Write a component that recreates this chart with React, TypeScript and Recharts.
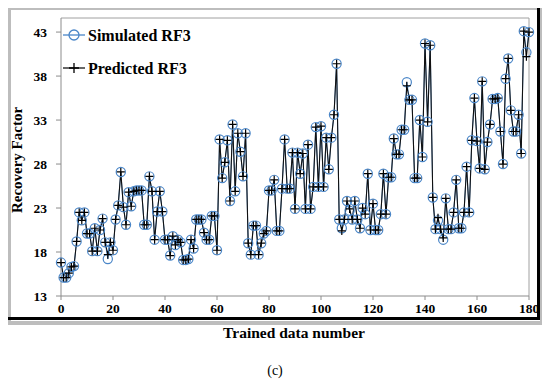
import { LineChart, Line, XAxis, YAxis, ReferenceLine, Customized } from "recharts";

// values (index = trained data number)
const simulated = [
  16.8, 15.1, 15.1, 15.6, 16.3, 16.4, 19.2, 22.5, 21.6, 22.5,
  20.1, 20.1, 18.1, 20.7, 18.1, 20.5, 21.8, 19.1, 17.2, 19.1,
  18.2, 21.7, 23.3, 27.1, 23.1, 21.1, 24.8, 23.2, 24.9, 25.0,
  25.0, 25.0, 21.1, 21.1, 26.6, 24.9, 19.4, 22.6, 24.9, 22.6,
  19.4, 19.4, 17.6, 19.8, 18.8, 19.4, 19.1, 17.1, 17.1, 17.2,
  19.4, 18.4, 21.7, 21.7, 21.7, 20.2, 19.4, 19.4, 22.1, 22.1,
  18.2, 30.8, 26.4, 28.2, 30.7, 23.8, 32.5, 24.9, 31.5, 29.4,
  26.6, 31.5, 19.0, 17.7, 21.0, 21.0, 17.7, 19.0, 20.1, 20.4,
  25.0, 25.0, 26.2, 20.4, 20.4, 25.2, 30.8, 25.2, 25.2, 29.3,
  22.9, 29.3, 26.9, 29.2, 22.9, 30.2, 22.9, 25.4, 32.2, 25.4,
  32.3, 25.4, 31.0, 27.4, 31.0, 33.6, 39.4, 21.7, 20.7, 21.7,
  23.8, 22.7, 21.7, 23.8, 21.7, 20.7, 23.0, 22.3, 26.9, 20.5,
  23.5, 20.5, 20.5, 22.3, 26.9, 22.3, 26.5, 26.5, 30.9, 29.1,
  29.1, 31.9, 31.9, 37.3, 35.3, 35.3, 26.4, 26.4, 33.0, 28.8,
  41.7, 32.8, 41.5, 24.2, 20.6, 21.6, 20.6, 19.4, 24.1, 20.6,
  20.6, 22.5, 26.2, 20.7, 20.7, 22.5, 27.7, 22.5, 30.7, 35.5,
  30.6, 27.5, 37.4, 27.4, 30.5, 32.5, 35.4, 35.4, 35.5, 31.7,
  28.0, 37.7, 40.0, 34.1, 31.7, 31.7, 33.6, 29.2, 43.1, 40.7,
  43.0,
];

const predicted = [
  16.8, 15.1, 15.1, 15.6, 16.3, 16.4, 19.2, 22.5, 21.6, 22.5,
  20.1, 20.1, 18.1, 20.7, 18.1, 20.5, 21.8, 19.1, 17.7, 19.1,
  18.2, 21.7, 23.3, 27.1, 23.1, 21.1, 24.8, 23.2, 24.9, 25.0,
  25.0, 25.0, 21.1, 21.1, 26.6, 24.9, 19.4, 22.6, 24.9, 22.6,
  19.4, 19.4, 17.6, 19.8, 18.8, 19.4, 19.1, 17.1, 17.1, 17.2,
  19.4, 18.4, 21.7, 21.7, 21.7, 20.2, 19.4, 19.4, 22.1, 22.1,
  18.2, 30.8, 26.4, 28.2, 30.7, 23.8, 32.5, 24.9, 31.5, 29.4,
  26.6, 31.5, 19.0, 17.7, 21.0, 21.0, 17.7, 19.0, 20.1, 20.4,
  25.0, 25.0, 26.2, 20.4, 20.4, 25.2, 30.8, 25.2, 25.2, 29.3,
  22.9, 29.3, 26.9, 29.2, 22.9, 30.2, 22.9, 25.4, 32.2, 25.4,
  32.3, 25.4, 31.0, 27.4, 31.0, 33.6, 39.4, 21.7, 20.4, 21.7,
  23.8, 22.9, 21.7, 23.8, 21.7, 20.7, 23.0, 22.3, 26.9, 20.5,
  23.5, 20.5, 20.5, 22.3, 26.9, 22.3, 26.5, 26.5, 30.9, 29.1,
  29.1, 31.9, 31.9, 36.9, 35.3, 35.3, 26.4, 26.4, 33.0, 28.8,
  41.7, 32.8, 41.5, 24.2, 20.6, 21.9, 20.6, 19.6, 24.1, 20.6,
  20.6, 22.5, 26.2, 20.7, 20.7, 22.5, 27.7, 22.5, 30.7, 35.5,
  30.6, 27.5, 37.4, 27.4, 30.5, 32.5, 35.4, 35.4, 35.5, 31.7,
  28.0, 37.7, 40.0, 34.1, 31.7, 31.7, 33.6, 29.2, 43.1, 40.2,
  43.0,
];

const xTicks = [0, 20, 40, 60, 80, 100, 120, 140, 160, 180];
const yTicks = [13, 18, 23, 28, 33, 38, 43];
const Y_MAX = 44.6;

const data = simulated.map((v, i) => ({ n: i, sim: v, pred: predicted[i] }));

const serif = "'Liberation Serif', 'Times New Roman', serif";
const BLUE = "#4a86c8";

const Plus = (props: any) => {
  const { cx, cy } = props;
  if (cx == null || cy == null) return null;
  return <path d={`M${cx - 4},${cy}H${cx + 4}M${cx},${cy - 4}V${cy + 4}`} stroke="#000" strokeWidth={1.2} fill="none" />;
};

// filled ring between two rectangles (outer, inner) for the picture frame
const ring = (x: number, y: number, w: number, h: number, t: number) =>
  `M${x},${y}H${x + w}V${y + h}H${x}Z M${x + t},${y + t}V${y + h - t}H${x + w - t}V${y + t}Z`;

const Decor = () => (
  <g>
    <path d={ring(7, 6, 537, 319, 4)} fill="#bdbdbd" fillRule="evenodd" />
    <path d={ring(3, 2, 537, 318, 3)} fill="#000" fillRule="evenodd" />
    <g transform="translate(61,25)">
      <line x1={2} y1={10} x2={24} y2={10} stroke={BLUE} strokeWidth={1.3} />
      <circle cx={13} cy={10} r={5} stroke={BLUE} strokeWidth={1.3} fill="none" />
      <text x={27} y={15.5} fontFamily={serif} fontWeight="bold" fontSize={16} fill="#000">Simulated RF3</text>
      <line x1={2} y1={43} x2={24} y2={43} stroke="#000" strokeWidth={1.2} />
      <path d="M13,38V48M8,43H18" stroke="#000" strokeWidth={1.3} />
      <text x={27} y={48.5} fontFamily={serif} fontWeight="bold" fontSize={16} fill="#000">Predicted RF3</text>
    </g>
    <text x={22} y={160} transform="rotate(-90 22 160)" textAnchor="middle" fontFamily={serif} fontWeight="bold" fontSize={15} fill="#000">
      Recovery Factor
    </text>
    <text x={294} y={338} textAnchor="middle" fontFamily={serif} fontWeight="bold" fontSize={15.5} fill="#000">
      Trained data number
    </text>
    <text x={275} y={375} textAnchor="middle" fontFamily={serif} fontSize={14} fill="#000">
      (c)
    </text>
  </g>
);

export default function App() {
  return (
    <div style={{ width: 550, height: 387, margin: -8, background: "#fff" }}>
      <LineChart width={550} height={387} data={data} margin={{ top: 18, right: 21, bottom: 61, left: 0 }}>
        <XAxis
          type="number"
          dataKey="n"
          domain={[0, 180]}
          ticks={xTicks}
          height={30}
          stroke="#8c8c8c"
          tickSize={4}
          tickMargin={3}
          tick={{ fill: "#000", fontFamily: serif, fontWeight: "bold", fontSize: 13.5 }}
        />
        <YAxis
          type="number"
          domain={[13, Y_MAX]}
          ticks={yTicks}
          width={61}
          stroke="#8c8c8c"
          tickSize={5}
          tickMargin={9}
          tick={{ fill: "#000", fontFamily: serif, fontWeight: "bold", fontSize: 13.5 }}
        />
        <ReferenceLine y={Y_MAX} stroke="#a0a0a0" strokeWidth={1} />
        <ReferenceLine x={180} stroke="#a0a0a0" strokeWidth={1} />
        <Line
          type="linear"
          dataKey="sim"
          name="Simulated RF3"
          stroke={BLUE}
          strokeWidth={1}
          dot={{ r: 4.6, stroke: BLUE, strokeWidth: 1.2, fill: "none" }}
          isAnimationActive={false}
        />
        <Line
          type="linear"
          dataKey="pred"
          name="Predicted RF3"
          stroke="#111"
          strokeWidth={1.1}
          dot={<Plus />}
          isAnimationActive={false}
        />
        <Customized component={Decor} />
      </LineChart>
    </div>
  );
}
